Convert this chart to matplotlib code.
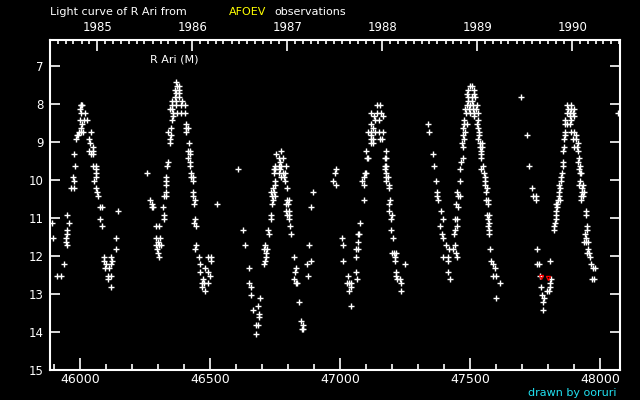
"""
Light curve of R Ari (AFOEV observations), JD - 2400000 vs visual magnitude.
"""

import datetime
import matplotlib
matplotlib.use('Agg')
import matplotlib.pyplot as plt

# Observations, grouped by cycle (JD - 2400000, magnitude)
jd_c0 = [45893, 45897, 45912, 45928, 45939, 45947, 45947, 45948, 45951, 45951, 45951, 45959, 45966, 45974,
         45978, 45978, 45978, 45982]
mag_c0 = [11.14, 11.54, 12.54, 12.54, 12.22, 11.54, 11.64, 11.43, 10.93, 11.32, 11.72, 11.14, 10.22, 9.93,
          10.04, 10.22, 9.32, 9.64]

jd_c1 = [45985, 45987, 45993, 45994, 46000, 46000, 46002, 46005, 46008, 46005, 46005, 46005, 46008, 46010,
         46016, 46020, 46028, 46035, 46035, 46039, 46043, 46043, 46051, 46051, 46051, 46051, 46055, 46060,
         46062, 46062, 46062, 46062, 46066, 46070, 46078, 46085, 46078, 46083,
         46093, 46093, 46097, 46101, 46109, 46109, 46112, 46120, 46120, 46120, 46120, 46124, 46139, 46139, 46147]
mag_c1 = [8.93, 8.82, 8.82, 8.75, 8.14, 8.43, 8.04, 8.04, 8.04, 8.25, 8.64, 8.75, 8.54, 8.75,
          8.43, 8.25, 8.43, 8.93, 9.25, 9.04, 8.75, 9.32, 9.14, 9.25, 9.32, 9.64, 10.04, 9.82,
          9.64, 9.72, 9.93, 10.22, 10.32, 10.43, 10.72, 10.72, 11.04, 11.22,
          12.04, 12.14, 12.32, 12.22, 12.54, 12.61, 12.32, 12.04, 12.22, 12.54, 12.82, 12.14, 11.54, 11.82, 10.82]

jd_c2 = [46259, 46270, 46278, 46275, 46280, 46293, 46305, 46293, 46309, 46301, 46293, 46305, 46313, 46297,
         46301, 46305, 46320, 46324, 46329, 46329, 46324, 46324, 46332, 46332, 46332, 46339, 46335, 46339,
         46347, 46347, 46351, 46351, 46355, 46358, 46347, 46355, 46357, 46373, 46388, 46403, 46355, 46368,
         46388, 46403, 46355, 46368, 46393, 46365, 46380, 46368, 46380, 46365, 46380, 46373, 46380, 46368,
         46408, 46408, 46416, 46406, 46419, 46414, 46421, 46424, 46416, 46421, 46424, 46428, 46428, 46436,
         46436, 46433, 46433, 46443, 46439, 46443, 46439, 46447, 46447, 46443, 46459, 46493, 46505, 46505,
         46462, 46482, 46462, 46493, 46501, 46474, 46470, 46478, 46493, 46470, 46482, 46528]
mag_c2 = [9.82, 10.54, 10.64, 10.72, 10.72, 11.22, 11.22, 11.54, 11.54, 11.64, 11.72, 11.72, 11.72, 11.82,
          11.93, 12.04, 10.72, 10.43, 10.43, 10.32, 10.93, 11.04, 9.93, 10.04, 10.14, 9.54, 9.64, 8.75,
          8.93, 9.04, 8.82, 8.64, 8.43, 8.32, 8.14, 8.14, 8.25, 8.25, 8.25, 8.25, 8.04, 8.04,
          8.04, 8.04, 7.93, 7.93, 7.93, 7.82, 7.82, 7.72, 7.72, 7.63, 7.63, 7.54, 7.54, 7.43,
          8.54, 8.64, 8.64, 8.75, 9.04, 9.25, 9.25, 9.32, 9.43, 9.54, 9.64, 9.82, 9.93, 9.93,
          10.04, 10.32, 10.43, 10.54, 10.64, 11.04, 11.14, 11.22, 11.72, 11.82, 12.04, 12.04, 12.04, 12.14,
          12.22, 12.32, 12.43, 12.43, 12.54, 12.61, 12.72, 12.72, 12.72, 12.82, 12.93, 10.64]

jd_c3 = [46609, 46628, 46636, 46651, 46651, 46659, 46659, 46693, 46685, 46666, 46689, 46689, 46678, 46685,
         46678,
         46755, 46751, 46747, 46751, 46747, 46751, 46751, 46743, 46735, 46747, 46739, 46751, 46743, 46739,
         46735, 46735, 46724, 46728, 46712, 46709, 46720, 46716, 46716, 46712, 46709,
         46774, 46766, 46782, 46770, 46766, 46774, 46793, 46770, 46766, 46782, 46789, 46774, 46786, 46789,
         46797, 46797, 46805, 46793, 46801, 46793, 46805, 46797, 46805, 46805, 46809, 46813]
mag_c3 = [9.72, 11.32, 11.72, 12.32, 12.72, 12.82, 13.04, 13.11, 13.32, 13.43, 13.53, 13.61, 13.82, 13.82,
          14.04,
          9.32, 9.64, 9.72, 9.72, 9.82, 10.04, 10.14, 10.22, 10.32, 10.32, 10.43, 10.43, 10.54, 10.64,
          10.93, 11.04, 11.32, 11.43, 11.72, 11.82, 11.82, 11.93, 12.04, 12.14, 12.22,
          9.25, 9.43, 9.43, 9.54, 9.64, 9.64, 9.64, 9.72, 9.82, 9.82, 9.82, 9.93, 9.93, 10.04,
          10.22, 10.54, 10.54, 10.64, 10.64, 10.82, 10.82, 10.93, 10.93, 11.04, 11.22, 11.43]

jd_c4 = [46897, 46889, 46882, 46824, 46889, 46874, 46832, 46828, 46878, 46824, 46832, 46836, 46843, 46851,
         46859, 46855, 46859,
         46986, 46982, 46974, 46986, 47009, 47013, 47013, 47078, 47074, 47070, 47070, 47062, 47070, 47062,
         47062, 47032, 47066, 47028, 47035, 47043, 47043, 47035, 47043,
         47093, 47093, 47086, 47093, 47097, 47101, 47105, 47109, 47101, 47120, 47128, 47120, 47128, 47120,
         47109, 47120, 47136, 47151, 47166, 47155, 47163, 47128, 47120, 47136, 47151, 47132, 47166, 47120,
         47143, 47159, 47143, 47153,
         47178, 47174, 47178, 47174, 47178, 47174, 47178, 47178, 47186, 47178, 47189, 47189, 47193, 47189,
         47189, 47201, 47197, 47197, 47202, 47201, 47208, 47216, 47212, 47212, 47251, 47216, 47216, 47220,
         47232, 47236, 47236]
mag_c4 = [10.32, 10.72, 11.72, 12.04, 12.14, 12.22, 12.32, 12.43, 12.54, 12.61, 12.72, 12.72, 13.22, 13.72,
          13.82, 13.93, 13.93,
          9.72, 9.82, 10.04, 10.14, 11.54, 11.72, 12.14, 11.14, 11.43, 11.43, 11.64, 11.82, 11.82, 12.04,
          12.43, 12.54, 12.61, 12.72, 12.72, 12.72, 12.82, 12.93, 13.32,
          10.54, 10.14, 10.04, 9.93, 9.82, 9.82, 9.43, 9.43, 9.25, 9.04, 9.04, 8.93, 8.93, 8.82,
          8.75, 8.75, 8.75, 8.75, 8.75, 8.93, 8.93, 8.64, 8.54, 8.43, 8.43, 8.32, 8.32, 8.25,
          8.25, 8.25, 8.04, 8.04,
          9.25, 9.43, 9.43, 9.64, 9.64, 9.72, 9.82, 9.93, 9.93, 10.04, 10.14, 10.22, 10.54, 10.64,
          10.82, 10.93, 11.04, 11.32, 11.54, 11.93, 11.93, 11.93, 12.04, 12.14, 12.22, 12.43, 12.54, 12.61,
          12.61, 12.72, 12.93]

jd_c5 = [47339, 47343, 47359, 47363, 47368, 47374, 47374, 47376, 47389, 47397, 47386, 47393, 47397, 47409,
         47420, 47436, 47397, 47416, 47416, 47416, 47424, 47443, 47447, 47451, 47439, 47443, 47451, 47443,
         47451, 47455, 47447, 47455, 47462, 47451, 47460, 47462, 47465, 47474, 47473, 47470, 47477, 47474,
         47480, 47474, 47477, 47488, 47478, 47485, 47501, 47516, 47532, 47481, 47496, 47511, 47523, 47489,
         47501, 47512, 47528, 47493, 47509, 47493, 47509, 47520, 47489, 47516, 47493, 47514, 47501, 47509,
         47516, 47530, 47527, 47530, 47534, 47534, 47529, 47539, 47547, 47537, 47545, 47543, 47543, 47542,
         47551, 47543, 47555, 47559, 47559, 47559, 47564, 47561, 47563, 47570, 47570, 47566, 47574, 47570,
         47574, 47570, 47574, 47574, 47578, 47582, 47589, 47597, 47589, 47601, 47616, 47601]
mag_c5 = [8.54, 8.75, 9.32, 9.64, 10.04, 10.32, 10.43, 10.54, 10.82, 11.04, 11.22, 11.43, 11.54, 11.72,
          11.82, 11.82, 12.04, 12.04, 12.14, 12.43, 12.61, 11.72, 11.93, 12.04, 11.43, 11.32, 11.22, 11.04,
          11.04, 10.72, 10.64, 10.43, 10.43, 10.32, 10.04, 9.72, 9.54, 9.43, 9.14, 9.04, 8.93, 8.82,
          8.75, 8.64, 8.54, 8.54, 8.43, 8.25, 8.25, 8.25, 8.25, 8.14, 8.14, 8.14, 8.14, 8.04,
          8.04, 8.04, 8.04, 7.93, 7.93, 7.82, 7.82, 7.82, 7.74, 7.74, 7.64, 7.64, 7.54, 7.54,
          8.32, 8.43, 8.54, 8.64, 8.75, 8.82, 8.93, 9.04, 9.04, 9.14, 9.14, 9.25, 9.32, 9.43,
          9.64, 9.72, 9.82, 9.93, 10.04, 10.14, 10.22, 10.32, 10.54, 10.54, 10.64, 10.93, 10.93, 11.04,
          11.14, 11.22, 11.32, 11.43, 11.82, 12.14, 12.22, 12.32, 12.54, 12.54, 12.72, 13.11]

jd_c6 = [47697, 47720, 47728, 47739, 47743, 47755, 47755, 47759, 47759, 47766, 47770, 47809, 47812, 47809,
         47774, 47809, 47797, 47805, 47778, 47786, 47782, 47782,
         47824, 47824, 47828, 47832, 47832, 47832, 47836, 47832, 47836, 47839, 47847, 47841, 47843, 47847,
         47841, 47851, 47851, 47855, 47857, 47857, 47859, 47862, 47862, 47866, 47864, 47866, 47874, 47886,
         47866, 47887, 47886, 47901, 47871, 47886, 47897, 47877, 47889, 47901, 47871, 47889,
         47889, 47901, 47897, 47909, 47909, 47901, 47912, 47915, 47916, 47918, 47916, 47921, 47919, 47921,
         47928, 47924, 47920, 47936, 47929, 47930, 47939, 47927, 47936, 47928, 47947, 47947, 47950, 47951,
         47943, 47947, 47939, 47947, 47955, 47955, 47951, 47959, 47962, 47966, 47974, 47982, 47970, 47978,
         48070]
mag_c6 = [7.82, 8.82, 9.64, 10.22, 10.43, 10.43, 10.54, 11.82, 12.22, 12.22, 12.54, 12.14, 12.61, 12.72,
          12.82, 12.82, 12.93, 12.93, 13.04, 13.11, 13.22, 13.43,
          11.32, 11.22, 11.14, 11.04, 10.93, 10.82, 10.72, 10.64, 10.64, 10.54, 10.54, 10.43, 10.32, 10.22,
          10.14, 10.04, 9.93, 9.82, 9.64, 9.54, 9.25, 9.14, 8.93, 8.82, 8.75, 8.54, 8.54, 8.54,
          8.43, 8.43, 8.32, 8.32, 8.25, 8.25, 8.25, 8.14, 8.14, 8.14, 8.04, 8.04,
          8.75, 8.75, 8.93, 8.93, 8.82, 9.14, 9.14, 9.04, 9.25, 9.43, 9.54, 9.64, 9.72, 9.82,
          9.82, 10.04, 10.14, 10.14, 10.22, 10.32, 10.32, 10.43, 10.43, 10.54, 10.82, 10.93, 11.22, 11.32,
          11.43, 11.54, 11.64, 11.64, 11.64, 11.82, 11.93, 11.93, 12.04, 12.22, 12.32, 12.32, 12.61, 12.61,
          8.25]

# "fainter than" estimates drawn in red
jd_faint = [47771, 47800]
mag_faint = [12.55, 12.58]

x_major = [46000, 46500, 47000, 47500, 48000]
y_ticks = [7, 8, 9, 10, 11, 12, 13, 14, 15]
years = [1985, 1986, 1987, 1988, 1989, 1990]


def jd_of(y, m):
    # JD - 2400000 at 0h UT on the first of the month
    return (datetime.date(y, m, 1) - datetime.date(1858, 11, 17)).days + 0.5


jd = jd_c0 + jd_c1 + jd_c2 + jd_c3 + jd_c4 + jd_c5 + jd_c6
mag = mag_c0 + mag_c1 + mag_c2 + mag_c3 + mag_c4 + mag_c5 + mag_c6

fig = plt.figure(figsize=(6.4, 4), dpi=100, facecolor='black')
ax = fig.add_axes([50.2 / 640, 30 / 400, 570.2 / 640, 330 / 400], facecolor='black')

ax.plot(jd, mag, linestyle='none', marker='+', color='white', markersize=3.8, markeredgewidth=1.0)
ax.plot(jd_faint, mag_faint, linestyle='none', marker='v', color='red', markersize=3,
        markerfacecolor='none', markeredgewidth=0.9)

ax.set_xlim(45885, 48078)
ax.set_ylim(15, 6.32)

ax.set_xticks(x_major)
ax.set_xticklabels([str(v) for v in x_major])
ax.set_xticks(list(range(45900, 48078, 100)), minor=True)
ax.set_yticks(y_ticks)
ax.set_yticklabels([str(v) for v in y_ticks])

for sp in ax.spines.values():
    sp.set_color('white')
    sp.set_linewidth(1.5)

ax.tick_params(axis='x', which='major', direction='in', length=8.5, width=1.2, colors='white',
               labelsize=9, pad=2, top=False)
ax.tick_params(axis='x', which='minor', direction='in', length=4.3, width=1.2, colors='white', top=False)
ax.tick_params(axis='y', which='major', direction='in', length=7.2, width=1.2, colors='white',
               labelsize=8.5, pad=5, left=True, right=True)

# top axis with calendar years
ax2 = ax.twiny()
ax2.set_xlim(ax.get_xlim())
ax2.set_xticks([jd_of(y, 1) for y in years])
ax2.set_xticklabels([str(y) for y in years])
ax2.set_xticks([jd_of(y, m) for y in range(1984, 1991) for m in range(1, 13)
                if 45885 < jd_of(y, m) < 48078 and m != 1], minor=True)
for sp in ax2.spines.values():
    sp.set_visible(False)
ax2.tick_params(axis='x', which='major', direction='in', length=8, width=1.2, colors='white',
                labelsize=8.5, pad=4)
ax2.tick_params(axis='x', which='minor', direction='in', length=2.8, width=1.2, colors='white')

fig.text(50 / 640, 1 - 12 / 400, "Light curve of R Ari from", color='white', fontsize=8, va='center')
fig.text(229 / 640, 1 - 12 / 400, "AFOEV", color='#ffff00', fontsize=8, va='center')
fig.text(274 / 640, 1 - 12 / 400, "observations", color='white', fontsize=8, va='center')
fig.text(150 / 640, 1 - 60 / 400, "R Ari (M)", color='white', fontsize=8, va='center')
fig.text(617 / 640, 1 - 393 / 400, "drawn by ooruri", color='#20e0f0', fontsize=8, va='center', ha='right')

fig.savefig('out.png', dpi=100, facecolor='black')
